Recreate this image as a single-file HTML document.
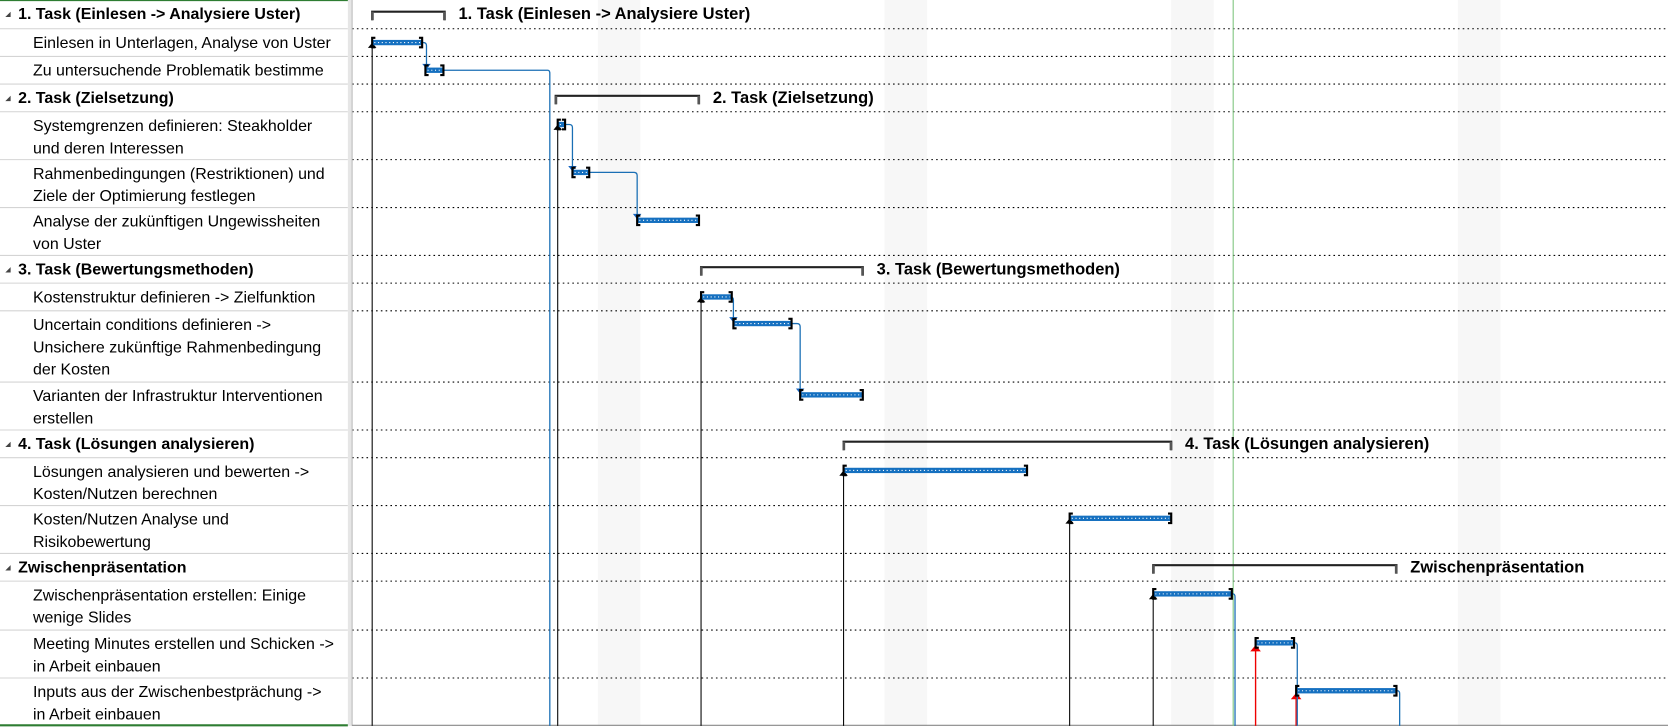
<!DOCTYPE html>
<html><head><meta charset="utf-8"><style>
html,body{margin:0;padding:0;background:#fff;overflow:hidden}
svg{display:block;font-family:"Liberation Sans",sans-serif}
</style></head><body>
<svg id="g" width="1668" height="728" viewBox="0 0 1568 684" preserveAspectRatio="none"></svg>
<script>
// ---- data ----
const rowNames = [
 ["1. Task (Einlesen -> Analysiere Uster)"],
 ["Einlesen in Unterlagen, Analyse von Uster"],
 ["Zu untersuchende Problematik bestimme"],
 ["2. Task (Zielsetzung)"],
 ["Systemgrenzen definieren: Steakholder","und deren Interessen"],
 ["Rahmenbedingungen (Restriktionen) und","Ziele der Optimierung festlegen"],
 ["Analyse der zukünftigen Ungewissheiten","von Uster"],
 ["3. Task (Bewertungsmethoden)"],
 ["Kostenstruktur definieren -> Zielfunktion"],
 ["Uncertain conditions definieren ->","Unsichere zukünftige Rahmenbedingung","der Kosten"],
 ["Varianten der Infrastruktur Interventionen","erstellen"],
 ["4. Task (Lösungen analysieren)"],
 ["Lösungen analysieren und bewerten ->","Kosten/Nutzen berechnen"],
 [" Kosten/Nutzen Analyse und","Risikobewertung"],
 ["Zwischenpräsentation"],
 ["Zwischenpräsentation erstellen: Einige","wenige Slides"],
 ["Meeting Minutes erstellen und Schicken ->","in Arbeit einbauen"],
 ["Inputs aus der Zwischenbestpräc­hung   ->","in Arbeit einbauen"]
];
const isSummary = [1,0,0,1,0,0,0,1,0,0,0,1,0,0,1,0,0,0];
const rowLines = [1,1,1,1,2,2,2,1,1,3,2,1,2,2,1,2,2,2];
// start / finish in days from chart origin
const startDay = [0.49,0.49,1.79,4.97,5.02,5.38,6.96,8.52,8.52,9.31,10.94,12.0,12.0,17.52,19.56,19.56,22.06,23.05];
const endDay   = [2.26,1.71,2.23,8.47,5.2,5.79,8.47,12.47,9.27,10.73,12.47,20.0,16.48,20.0,25.5,21.48,23.0,25.5];
const preds = [[1,2],[4,5],[5,6],[8,9],[9,10],[16,-1],[2,-1],[17,-1],[15,-1]];
const weekendStarts = [6.0,13.0,20.0,27.0];
const statusDay = 21.5;
// ---- scales ----
const X0=331, DAY=38.5;
const xs=d=>X0+d*DAY;
const ROWH=[27,26,26,26,45,45,45,26,26,67,45,26,45,45,26,46,45,45];
const NS="http://www.w3.org/2000/svg";
const svg=document.getElementById('g');
function el(t,a,p){const e=document.createElementNS(NS,t);for(const k in a)e.setAttribute(k,a[k]);(p||svg).appendChild(e);return e;}
const tops=[];let y=0;ROWH.forEach(h=>{tops.push(y);y+=h;});const BOTTOM=y;
// weekends
weekendStarts.forEach(d=>{const r=el('rect',{x:xs(d),y:0,width:40,height:BOTTOM,fill:'#f7f7f7'});

});
// row lines
tops.slice(1).forEach(t=>{el('line',{x1:331,x2:1568,y1:t,y2:t,stroke:'#000','stroke-dasharray':'1.5,3','stroke-width':1});
el('line',{x1:0,x2:327,y1:t,y2:t,stroke:'#d4d4d4'});});
// left panel
el('rect',{x:327,y:0,width:4,height:BOTTOM,fill:'#e6e6e6'});
el('line',{x1:331,x2:331,y1:0,y2:BOTTOM,stroke:'#bbb'});
el('line',{x1:0,x2:327,y1:0.5,y2:0.5,stroke:'#2e7d32'});
el('line',{x1:0,x2:327,y1:BOTTOM-0.5,y2:BOTTOM-0.5,stroke:'#2e7d32','stroke-width':2});
el('line',{x1:331,x2:1568,y1:BOTTOM-0.5,y2:BOTTOM-0.5,stroke:'#888'});
rowNames.forEach((lines,i)=>{
 const t=el('text',{x:isSummary[i]?17:31,y:tops[i]+18,'font-size':15,'font-weight':isSummary[i]?'bold':'normal',fill:'#000'});
 
 
 lines.forEach((l,j)=>{const s=el('tspan',{x:isSummary[i]?17:31,dy:j?21:0},t);s.textContent=l;});
 if(isSummary[i]){const a=el('path',{d:`M5 ${tops[i]+16} l5 -5 v5z`,fill:'#444'});
 
 }
});
// status line
const sl=el('line',{x1:xs(statusDay)+0.5,x2:xs(statusDay)+0.5,y1:0,y2:BOTTOM,stroke:'#7cc47c'});


const barY=i=>tops[i]+(rowLines[i]>1?12:13);
// deadline / constraint verticals
[1,4,8,12,13,15].forEach(i=>{const x=xs(startDay[i]);el('line',{x1:x,x2:x,y1:barY(i)+4,y2:BOTTOM,stroke:'#000'});el('path',{d:`M${x-4} ${barY(i)+5} l4 -5 l4 5z`,fill:'#000'});});
[16,17].forEach(i=>{const x=xs(startDay[i]);el('line',{x1:x,x2:x,y1:barY(i)+5,y2:BOTTOM,stroke:'#e00',"stroke-width":1.3});el('path',{d:`M${x-5} ${barY(i)+8} l5 -6 l5 6z`,fill:'#e00'});});
// links
preds.forEach(([a,b])=>{
 const x1=xs(endDay[a]), y1=barY(a);
 let d;
 if(b<0){const xx=x1+3+(a==2?97:0);d=`M${x1} ${y1} H${xx-2} q2 0 2 3 V${BOTTOM}`;}
 else {const xx=xs(startDay[b])+(b==2?1:0);d=`M${x1} ${y1} H${xx-3} q3 0 3 3 V${barY(b)-3}`;
   el('path',{d:`M${xx-4} ${barY(b)-6} h8 l-4 5z`,fill:'#1565c0'});}
 const p=el('path',{d,fill:'none',stroke:'#1a6fb5','stroke-width':1.2});
 
 
});
// bars
rowNames.forEach((n,i)=>{
 const x1=xs(startDay[i]),x2=xs(endDay[i]),yy=barY(i);
 if(isSummary[i]){
  const g=el('g',{});
  
  
  el('path',{d:`M${x1} ${yy+6} V${yy-2} H${x2} V${yy+6}`,fill:'none',stroke:'#222','stroke-width':2},g);
  el('rect',{x:x1-1,y:yy-2,width:2.5,height:8,fill:'#555'},g);el('rect',{x:x2-1.5,y:yy-2,width:2.5,height:8,fill:'#555'},g);
  const t=el('text',{x:x2+13,y:yy+5,'font-size':15.5,'font-weight':'bold'},g);t.textContent=n[0];
 } else {
  const g=el('g',{});
  
  
  el('rect',{x:x1,y:yy-2.5,width:x2-x1,height:5,fill:'#1570c0'},g);
  el('line',{x1:x1+2,x2:x2-2,y1:yy,y2:yy,stroke:'#fff','stroke-dasharray':'1,2.5','stroke-width':1},g);
  el('path',{d:`M${x1+3} ${yy-4.5} h-3 v9 h3`,fill:'none',stroke:'#000','stroke-width':2},g);
  el('path',{d:`M${x2-3} ${yy-4.5} h3 v9 h-3`,fill:'none',stroke:'#000','stroke-width':2},g);
 }
});
</script>
</body></html>
